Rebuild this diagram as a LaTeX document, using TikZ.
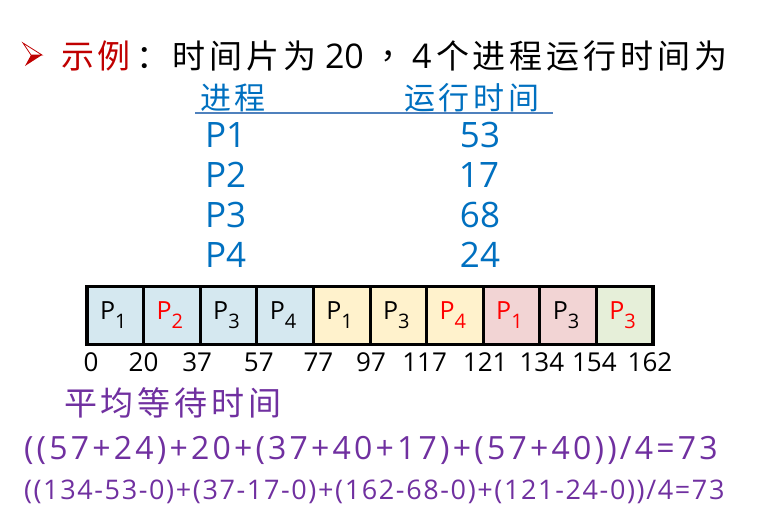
\documentclass[tikz,border=0pt]{standalone}
\usepackage{fontspec}
\setmainfont{Open Sans}
\newfontfamily\cjk[LetterSpace=12]{Noto Sans CJK SC}
\newfontfamily\fA[LetterSpace=10]{Open Sans}
\newfontfamily\fB[LetterSpace=6]{Open Sans}
\definecolor{tred}{RGB}{192,0,0}
\definecolor{tblue}{RGB}{0,112,192}
\definecolor{tpurple}{RGB}{112,48,160}
\definecolor{hline}{RGB}{79,129,189}
\definecolor{cblue}{RGB}{213,232,240}
\definecolor{cyellow}{RGB}{255,242,204}
\definecolor{cpink}{RGB}{242,212,212}
\definecolor{cgreen}{RGB}{230,239,217}
\definecolor{pred}{RGB}{255,0,0}
\newcommand{\fsz}[1]{\fontsize{#1}{#1}\selectfont}
\newcommand{\plab}[1]{P\raisebox{-0.38em}{\fsz{20}#1}}
\tikzset{
  txt/.style={inner sep=0pt, outer sep=0pt},
  ttl/.style={txt, anchor=west, font=\fsz{33}\cjk},
  hdr/.style={txt, anchor=west, font=\fsz{31}\cjk, text=tblue},
  row/.style={txt, font=\fsz{35}, text=tblue},
  cellbox/.style={draw=black, line width=3pt, minimum width=56.6pt, minimum height=58pt, inner sep=0pt, outer sep=0pt},
  clab/.style={txt, anchor=west, font=\fsz{25}},
  tick/.style={txt, font=\fsz{26}},
}
\begin{document}
\begin{tikzpicture}[x=1pt,y=-1pt]
\useasboundingbox[fill=white] (0,0) rectangle (760,522);
% bullet
\filldraw[fill=white, draw=tred, line width=0.8pt] (23,43) -- (42,55) -- (31,55) -- cycle;
\fill[tred] (31,55) -- (42,55) -- (25,66) -- cycle;
% title
\node[ttl, text=tred] (t1) at (61,56) {示例};
\node[ttl] (t2) at (136,56) {：时间片为};
\node[txt, anchor=west, font=\fsz{34}] (t3) at (325,56) {20};
\node[ttl] (t4) at (380,56) {，};
\node[txt, anchor=west, font=\fsz{34}] (t5) at (412,56) {4};
\node[ttl] (t6) at (436,56) {个进程运行时间为};
% table
\node[hdr] (h1) at (200,98) {进程};
\node[hdr] (h2) at (404,98) {运行时间};
\draw[hline, line width=1.5pt] (195,113) -- (553,113);
\node[row, anchor=west] (p1) at (205,135) {P1};
\node[row, anchor=west] (p2) at (205,175) {P2};
\node[row, anchor=west] (p3) at (205,215) {P3};
\node[row, anchor=west] (p4) at (205,255) {P4};
\node[row] (r1) at (480,135) {53};
\node[row] (r2) at (479,175) {17};
\node[row] (r3) at (480,215) {68};
\node[row] (r4) at (480,255) {24};
% Gantt cells
\foreach \i/\c/\s/\col in {0/cblue/1/black,1/cblue/2/pred,2/cblue/3/black,3/cblue/4/black,
  4/cyellow/1/black,5/cyellow/3/black,6/cyellow/4/pred,7/cpink/1/pred,8/cpink/3/black,9/cgreen/3/pred}{
  \node[cellbox, fill=\c, anchor=west] (c\i) at ({87+56.6*\i},315.5) {};
  \node[clab, text=\col] (l\i) at ({87+56.6*\i+13},315) {\plab{\s}};
}
\draw[line width=3.5pt] (c0.north west) rectangle (c9.south east);
% ticks
\foreach \i/\v/\dx in {0/0/4,1/20/0,2/37/-3,3/57/2,4/77/5,5/97/1,6/117/-2,7/121/2,8/134/2,9/154/-2,10/162/-3}{
  \node[tick] (n\i) at ({87+56.6*\i+\dx},362) {\v};
}
% average waiting time
\node[txt, anchor=west, font=\fsz{33}\cjk, text=tpurple] (a1) at (64,403) {平均等待时间};
\node[txt, anchor=west, font=\fsz{32}\fA, text=tpurple] (f1) at (24,450) {((57+24)+20+(37+40+17)+(57+40))/4=73};
\node[txt, anchor=west, font=\fsz{27}\fB, text=tpurple] (f2) at (24,492) {((134-53-0)+(37-17-0)+(162-68-0)+(121-24-0))/4=73};
\end{tikzpicture}
\end{document}
